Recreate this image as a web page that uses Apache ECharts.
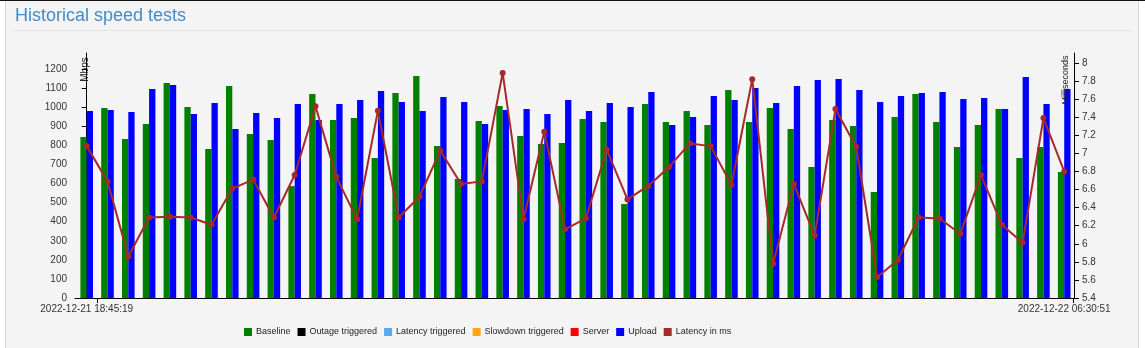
<!DOCTYPE html>
<html>
<head>
<meta charset="utf-8">
<script src="https://cdn.jsdelivr.net/npm/echarts@6/dist/echarts.min.js"></script>
<style>
html,body{margin:0;padding:0;background:#fff;width:1145px;height:348px;overflow:hidden}
#frame{position:absolute;left:5px;top:0;width:1134px;height:348px;background:#f4f4f4;border-left:1px solid #d6d6d6;border-right:1px solid #d6d6d6;box-sizing:border-box}
#topline{position:absolute;left:0;top:0;width:1145px;height:1px;background:#111}
#chart{position:absolute;left:0;top:0;width:1145px;height:348px}
</style>
</head>
<body>
<div id="frame"></div>
<div id="topline"></div>
<div id="chart"></div>
<script>
// ---- data ----
const xTickLabels = ['2022-12-21 18:45:19', '2022-12-22 06:30:51'];
const xTickIndex = [0, 47];
const baseline = [844,997,834,913,1128,1002,781,1112, 860,829,587,1070,934,944,734,1075,
  1164,797,624,928,1007,850,808,813, 939,923,493,1018,923,981,907,1091,
  923,997,886,687,934,902,556,949, 1070,923,792,907,991,734,792,661];
const upload = [981,986,976,1096,1117,965,1023,886, 970,944,1018,934,1018,1039,1086,1028,
  981,1054,1028,913,986,991,965,1039, 981,1023,1002,1080,907,949,1059,1039,
  1101,1023,1112,1143,1149,1091,1028,1059, 1075,1080,1044,1049,991,1159,1018,1096];
const latency = [7.08,6.69,5.86,6.29,6.30,6.29,6.21,6.61, 6.71,6.29,6.76,7.52,6.74,6.27,7.47,6.29,
  6.52,7.03,6.66,6.69,7.89,6.27,7.24,6.16, 6.28,7.04,6.49,6.64,6.85,7.11,7.08,6.65,
  7.82,5.78,6.66,6.09,7.49,7.07,5.63,5.82, 6.29,6.28,6.11,6.76,6.21,6.01,7.39,6.80];
const legendNames = ['Baseline','Outage triggered','Latency triggered','Slowdown triggered','Server','Upload','Latency in ms'];
const legendColors = ['#008000','#000000','#5aaaf0','#ffa31a','#ff0000','#0000ff','#a52a2a'];

const pairs = arr => arr.map((v, i) => [i, v]);
const FONT = "'Liberation Sans', Arial, sans-serif";

const chart = echarts.init(document.getElementById('chart'), null, {renderer: 'canvas'});
const emptySeries = [1,2,3,4].map(k => ({
  name: legendNames[k], type: 'scatter', data: [], itemStyle: {color: legendColors[k], opacity: 1}
}));
chart.setOption({
  backgroundColor: 'transparent',
  animation: false,
  title: {
    text: 'Historical speed tests', left: 15, top: 7, padding: 0,
    textStyle: {fontFamily: FONT, fontSize: 18, fontWeight: 'normal', color: '#428bca'}
  },
  legend: {
    left: 244, top: 327.5, padding: 0, itemWidth: 8, itemHeight: 8, itemGap: 7,
    icon: 'rect',
    data: legendNames.map(n => ({name: n, icon: 'rect'})),
    itemStyle: {opacity: 1},
    textStyle: {fontFamily: FONT, fontSize: 9, color: '#222', padding: [0, 0, 0, -1]}
  },
  grid: {left: 75, right: 71, top: 53, bottom: 50, outerBoundsMode: 'none', containLabel: false},
  xAxis: {
    type: 'value', min: -0.5625, max: 47.47,
    splitLine: {show: false},
    axisLine: {show: true, lineStyle: {color: '#000', width: 1}},
    axisTick: {show: true, length: 5, customValues: [0.5, 47.42], lineStyle: {color: '#000'}},
    axisLabel: {
      customValues: xTickIndex, margin: 6, fontSize: 10, fontFamily: FONT, color: '#333',
      formatter: v => xTickLabels[xTickIndex.indexOf(Math.round(v))]
    }
  },
  yAxis: [
    {
      type: 'value', position: 'left', min: 0, max: 1285, interval: 100,
      splitLine: {show: false},
      axisLine: {show: true, lineStyle: {color: '#000'}},
      axisTick: {show: true, length: 5, lineStyle: {color: '#000'}},
      axisLabel: {showMaxLabel: false, fontSize: 10, fontFamily: FONT, color: '#333', margin: 8,
        formatter: v => String(v)}
    },
    {
      type: 'value', position: 'right', min: 5.4, max: 8.11, interval: 0.2,
      splitLine: {show: false},
      axisLine: {show: true, lineStyle: {color: '#000'}},
      axisTick: {show: true, length: 5, lineStyle: {color: '#000'}},
      axisLabel: {showMaxLabel: false, fontSize: 10, fontFamily: FONT, color: '#333', margin: 8,
        formatter: v => String(Math.round(v * 10) / 10)}
    }
  ],
  graphic: [
    {type: 'line', silent: true, shape: {x1: 15, y1: 30.5, x2: 1131, y2: 30.5}, style: {stroke: '#e2e2e2', lineWidth: 1}},
    {type: 'text', silent: true, x: 85.5, y: 69.5, rotation: Math.PI / 2,
      style: {text: 'Mbps', font: "10px 'Liberation Sans', Arial, sans-serif", fill: '#222', align: 'center', verticalAlign: 'middle'}},
    {type: 'text', silent: true, z: 100, x: 1066, y: 80, rotation: Math.PI / 2,
      style: {text: 'Milliseconds', font: "9px 'Liberation Sans', Arial, sans-serif", fill: '#222', align: 'center', verticalAlign: 'middle'}}
  ],
  series: [
    {name: 'Baseline', type: 'bar', data: pairs(baseline), barWidth: 6.3, barGap: '0%', itemStyle: {color: legendColors[0]}},
    ...emptySeries,
    {name: 'Upload', type: 'bar', data: pairs(upload), barWidth: 6.3, barGap: '0%', itemStyle: {color: legendColors[5]}},
    {name: 'Latency in ms', type: 'line', yAxisIndex: 1, data: pairs(latency), z: 5,
      symbol: 'circle', symbolSize: 6, showAllSymbol: true,
      itemStyle: {color: legendColors[6]}, lineStyle: {color: legendColors[6], width: 2}}
  ]
});
</script>
</body>
</html>
